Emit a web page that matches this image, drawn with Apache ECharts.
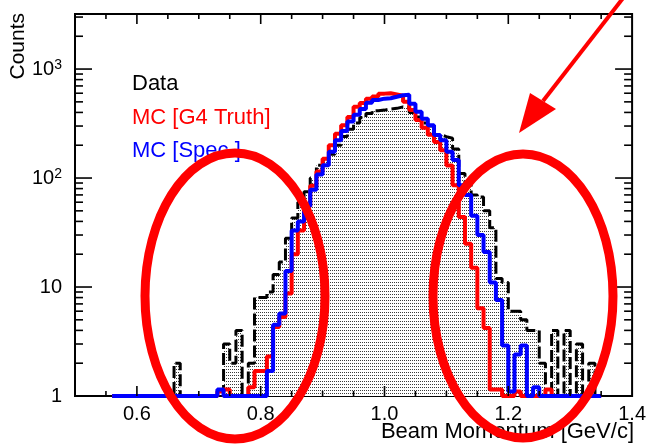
<!DOCTYPE html>
<html>
<head>
<meta charset="utf-8">
<script src="https://cdn.jsdelivr.net/npm/echarts@6/dist/echarts.min.js"></script>
<style>
html, body { margin: 0; padding: 0; background: #fff; }
#chart { width: 649px; height: 444px; }
</style>
</head>
<body>
<div id="chart"></div>
<script>
// Beam momentum histograms, 0.01 GeV/c bins starting at 0.56 GeV/c
const binStart = 0.56;
const binWidth = 0.01;

// Data: raw counts per bin
const dataCounts = [
  0, 0, 0, 0, 0, 0, 0, 0, 0, 0,          // 0.56 - 0.65
  2, 0, 0, 0, 0, 0, 0, 1, 3, 2,          // 0.66 - 0.75
  4, 1, 2, 8, 8, 9, 13, 17, 28, 43,      // 0.76 - 0.85
  60, 75, 100, 131, 146, 165, 200, 240, 280, 320, // 0.86 - 0.95
  360, 390, 415, 420, 430, 436, 450, 445, 400, 363, // 0.96 - 1.05
  320, 300, 250, 240, 232, 185, 110, 86, 70, 67,    // 1.06 - 1.15
  50, 35, 12, 11, 6, 6, 5, 4, 4, 2,      // 1.16 - 1.25
  1, 4, 1, 4, 1, 3, 1, 2, 0              // 1.26 - 1.34
];

// MC, Geant4 truth momentum (normalised to data)
const mcTruth = [
  0, 0, 0, 0, 0, 0, 0, 0, 0, 0,
  0, 0, 0, 0, 0, 0, 0, 1.1, 1.15, 0,
  0, 0, 1.2, 1.7, 1.7, 2.3, 4.3, 5.3, 8.7, 20,
  33, 55, 85, 115, 150, 200, 255, 305, 363, 450,
  487, 535, 560, 595, 600, 585, 570, 500, 420, 340,
  290, 250, 214, 180, 130, 86, 44, 25, 15, 6.4,
  4.2, 1.15, 1.15, 0, 0, 1.1, 0, 0, 0, 0,
  1.15, 0, 0, 0, 0, 0, 0, 0, 0
];

// MC, spectrometer-reconstructed momentum (normalised to data)
const mcSpec = [
  0, 0, 0, 0, 0, 0, 0, 0, 0, 0,
  0, 0, 0, 0, 0, 0, 0, 1.15, 0, 0,
  0, 0, 0, 0, 0, 1.7, 4.5, 5.7, 14, 33,
  40, 55, 78, 108, 131, 174, 222, 270, 330, 380,
  430, 490, 520, 535, 540, 557, 575, 580, 480, 405,
  350, 305, 248, 222, 174, 146, 86, 70, 45, 30,
  21, 11, 7.6, 2.9, 1.1, 2.4, 2.9, 0, 1.2, 0,
  0, 0, 0, 0, 0, 0, 0, 0, 0
];

const legendNames = ['Data', 'MC [G4 Truth]', 'MC [Spec.]'];
const xTitle = 'Beam Momentum [GeV/c]';
const yTitle = 'Counts';

const xMin = 0.5, xMax = 1.4;
const yMin = 1, yMax = 3200;
const xMajorTicks = [0.6, 0.8, 1.0, 1.2];
const xMinorTicks = [0.55, 0.65, 0.7, 0.75, 0.85, 0.9, 0.95, 1.05, 1.1, 1.15, 1.25, 1.3, 1.35];
const yMajorTicks = [10, 100, 1000];
const yMinorTicks = [2, 3, 4, 5, 6, 7, 8, 9, 20, 30, 40, 50, 60, 70, 80, 90,
                     200, 300, 400, 500, 600, 700, 800, 900, 2000, 3000];

const FONT = '"Liberation Sans", Arial, Helvetica, sans-serif';

// Step outline: each bin holds its value from its low edge to the next edge.
// Empty bins sit on the log-axis floor.
function stepPoints(values) {
  const pts = values.map((v, i) => [+(binStart + i * binWidth).toFixed(2), Math.max(v, yMin)]);
  pts.push([+(binStart + values.length * binWidth).toFixed(2), Math.max(values[values.length - 1], yMin)]);
  return pts;
}

// Fine dot hatch used under the data histogram
const dotPattern = document.createElement('canvas');
dotPattern.width = 2;
dotPattern.height = 3;
(function () {
  const c = dotPattern.getContext('2d');
  c.fillStyle = '#ffffff';
  c.fillRect(0, 0, 2, 3);
  c.fillStyle = '#3a3a3a';
  c.fillRect(0, 0, 1, 1);
})();

const TICK = { stroke: '#000', lineWidth: 1.6 };

function renderXTick(params, api) {
  const v = api.value(0);
  const major = api.value(2);
  const b = api.coord([v, yMin]);
  const t = api.coord([v, yMax]);
  const len = major ? 10 : 5;
  return {
    type: 'group',
    children: [
      { type: 'line', shape: { x1: b[0], y1: b[1], x2: b[0], y2: b[1] - len }, style: TICK },
      { type: 'line', shape: { x1: t[0], y1: t[1], x2: t[0], y2: t[1] + len }, style: TICK }
    ]
  };
}

function renderYTick(params, api) {
  const v = api.value(1);
  const major = api.value(2);
  const l = api.coord([xMin, v]);
  const r = api.coord([xMax, v]);
  const len = major ? 17 : 8;
  return {
    type: 'group',
    children: [
      { type: 'line', shape: { x1: l[0], y1: l[1], x2: l[0] + len, y2: l[1] }, style: TICK },
      { type: 'line', shape: { x1: r[0], y1: r[1], x2: r[0] - len, y2: r[1] }, style: TICK }
    ]
  };
}

const xTickData = xMajorTicks.map(v => [v, yMin, 1]).concat(xMinorTicks.map(v => [v, yMin, 0]));
const yTickData = yMajorTicks.map(v => [xMin, v, 1]).concat(yMinorTicks.map(v => [xMin, v, 0]));

const chart = echarts.init(document.getElementById('chart'), null, { renderer: 'canvas' });

chart.setOption({
  animation: false,
  backgroundColor: '#fff',
  textStyle: { fontFamily: FONT },
  grid: {
    left: 75, right: 15, top: 14, bottom: 48,
    show: true, borderColor: '#000', borderWidth: 2, backgroundColor: 'transparent'
  },
  xAxis: {
    type: 'value',
    min: xMin, max: xMax, interval: 0.1,
    axisLine: { show: false },
    axisTick: { show: false },
    splitLine: { show: false },
    axisLabel: {
      color: '#000', fontSize: 20, fontFamily: FONT, margin: 8,
      formatter: v => (Math.round(v * 10) % 2 === 0 ? v.toFixed(1) : '')
    }
  },
  yAxis: {
    type: 'log', logBase: 10,
    min: yMin, max: yMax,
    axisLine: { show: false },
    axisTick: { show: false },
    splitLine: { show: false },
    axisLabel: {
      color: '#000', fontSize: 20, fontFamily: FONT, margin: 13,
      formatter: v => {
        const e = Math.log10(v);
        const n = Math.round(e);
        if (Math.abs(e - n) > 1e-6) return '';
        if (n === 0) return '1';
        if (n === 1) return '10';
        return '{a|10}{b|' + n + '}';
      },
      rich: {
        a: { fontSize: 20, fontFamily: FONT, color: '#000', lineHeight: 22 },
        b: { fontSize: 14, fontFamily: FONT, color: '#000', verticalAlign: 'top', lineHeight: 22 }
      }
    }
  },
  series: [
    {
      name: legendNames[0], type: 'line', step: 'end', symbol: 'none',
      data: stepPoints(dataCounts),
      lineStyle: { color: '#000', width: 3, type: [12, 4] },
      areaStyle: { color: { image: dotPattern, repeat: 'repeat' }, origin: 'start', opacity: 1 },
      z: 2
    },
    {
      name: legendNames[1], type: 'line', step: 'end', symbol: 'none',
      data: stepPoints(mcTruth),
      lineStyle: { color: '#ff0000', width: 4 },
      z: 3
    },
    {
      name: legendNames[2], type: 'line', step: 'end', symbol: 'none',
      data: stepPoints(mcSpec),
      lineStyle: { color: '#0000ff', width: 4 },
      z: 4
    },
    {
      type: 'custom', renderItem: renderXTick, data: xTickData,
      encode: { x: 0, y: 1 }, silent: true, clip: false, z: 5
    },
    {
      type: 'custom', renderItem: renderYTick, data: yTickData,
      encode: { x: 0, y: 1 }, silent: true, clip: false, z: 5
    }
  ],
  graphic: [
    { type: 'text', x: 132, y: 84, z: 50,
      style: { text: legendNames[0], fill: '#000', font: '22px ' + FONT, align: 'left', verticalAlign: 'middle' } },
    { type: 'text', x: 132, y: 118, z: 50,
      style: { text: legendNames[1], fill: '#ff0000', font: '22px ' + FONT, align: 'left', verticalAlign: 'middle' } },
    { type: 'text', x: 132, y: 151, z: 50,
      style: { text: legendNames[2], fill: '#0000ff', font: '22px ' + FONT, align: 'left', verticalAlign: 'middle' } },
    { type: 'text', x: 18, y: 13, rotation: Math.PI / 2, z: 50,
      style: { text: yTitle, fill: '#000', font: '21px ' + FONT, align: 'right', verticalAlign: 'middle' } },
    { type: 'text', x: 634, y: 421, z: 50,
      style: { text: xTitle, fill: '#000', font: '22px ' + FONT, align: 'right', verticalAlign: 'top' } },
    // highlighted tail regions
    { type: 'ellipse', z: 100, shape: { cx: 235, cy: 296, rx: 90, ry: 143 },
      style: { fill: 'none', stroke: '#ff0000', lineWidth: 9 } },
    { type: 'ellipse', z: 100, shape: { cx: 523, cy: 296, rx: 90, ry: 142 },
      style: { fill: 'none', stroke: '#ff0000', lineWidth: 9 } },
    // pointer arrow
    { type: 'line', z: 100, shape: { x1: 634, y1: -16, x2: 543, y2: 101 },
      style: { stroke: '#ff0000', lineWidth: 4 } },
    { type: 'polygon', z: 100, shape: { points: [[519, 133], [530, 93], [556, 109]] },
      style: { fill: '#ff0000' } }
  ]
});
</script>
</body>
</html>
